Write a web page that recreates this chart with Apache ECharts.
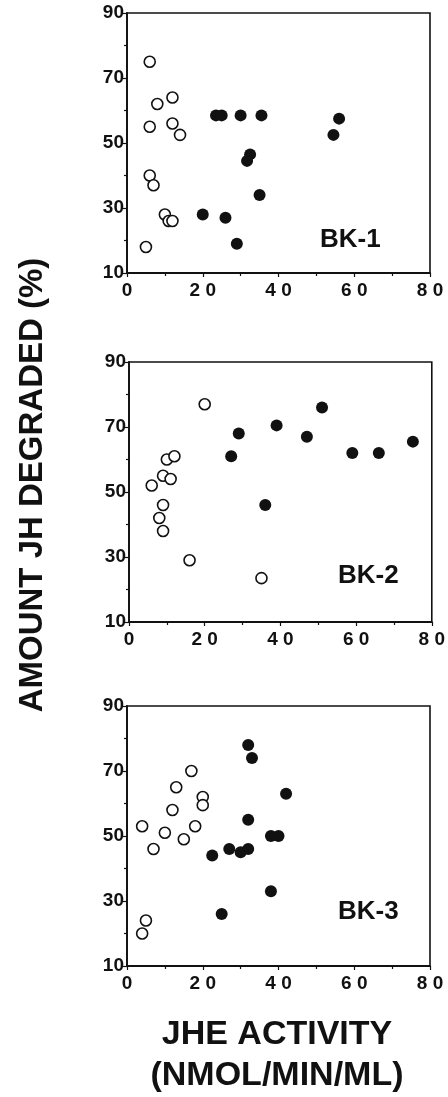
<!DOCTYPE html>
<html>
<head>
<meta charset="utf-8">
<script src="https://cdn.jsdelivr.net/npm/echarts@6/dist/echarts.min.js"></script>
<style>
    html, body { margin: 0; padding: 0; background: #fff; }
    #jh-degraded-chart { width: 448px; height: 1097px; }
</style>
</head>
<body>
<div id="jh-degraded-chart"></div>
<script>
    'use strict'

    // x = JHE activity, y = amount JH degraded (%)
    var bk1Open = [[6, 75], [8, 62], [12, 64], [6, 55], [12, 56], [14, 52.5], [6, 40], [7, 37], [10, 28], [11, 26], [12, 26], [5, 18]];
    var bk1Filled = [[23.5, 58.5], [25, 58.5], [30, 58.5], [35.5, 58.5], [56, 57.5], [54.5, 52.5], [32.5, 46.5], [31.7, 44.5], [35, 34], [20, 28], [26, 27], [29, 19]];

    var bk2Open = [[20, 77], [6, 52], [9, 55], [10, 60], [12, 61], [11, 54], [9, 46], [8, 42], [9, 38], [16, 29], [35, 23.5]];
    var bk2Filled = [[27, 61], [29, 68], [39, 70.5], [47, 67], [51, 76], [36, 46], [59, 62], [66, 62], [75, 65.5]];

    var bk3Open = [[4, 53], [7, 46], [10, 51], [12, 58], [13, 65], [15, 49], [17, 70], [18, 53], [20, 62], [20, 59.5], [5, 24], [4, 20]];
    var bk3Filled = [[32, 78], [33, 74], [42, 63], [32, 55], [38, 50], [40, 50], [22.5, 44], [27, 46], [30, 45], [32, 46], [38, 33], [25, 26]];

    var panelNames = ['BK-1', 'BK-2', 'BK-3'];
    var xTicks = [0, 20, 40, 60, 80];
    var yTicks = [10, 30, 50, 70, 90];

    var font = 'Liberation Sans, Arial, sans-serif';
    var panelTops = [13, 362, 706];
    var panelLefts = [127, 129, 127];
    var labelPos = [[320, 240], [338, 576], [338, 912]];

    var dom = document.getElementById('jh-degraded-chart');
    var chart = echarts.init(dom, null, { renderer: 'canvas' });

    var grids = [], xAxes = [], yAxes = [], series = [], graphics = [];
    var openSets = [bk1Open, bk2Open, bk3Open];
    var filledSets = [bk1Filled, bk2Filled, bk3Filled];

    for (var i = 0; i < 3; i++) {
        grids.push({
            left: panelLefts[i], top: panelTops[i], width: 303, height: 260,
            show: true, borderColor: '#111', borderWidth: 1.6, backgroundColor: 'transparent'
        });
        xAxes.push({
            gridIndex: i, type: 'value', min: xTicks[0], max: xTicks[xTicks.length - 1], interval: 20,
            axisLine: { lineStyle: { color: '#111', width: 1.8 } },
            axisTick: { show: true, inside: false, length: 4, lineStyle: { color: '#111', width: 1.2 } },
            minorTick: { show: true, splitNumber: 2, length: 3, lineStyle: { color: '#111', width: 1.2 } },
            splitLine: { show: false },
            axisLabel: {
                color: '#111', fontFamily: font, fontWeight: 'bold', fontSize: 19, margin: 8,
                formatter: function (v) { return String(v).split('').join(' '); }
            }
        });
        yAxes.push({
            gridIndex: i, type: 'value', min: yTicks[0], max: yTicks[yTicks.length - 1], interval: 20,
            axisLine: { lineStyle: { color: '#111', width: 1.8 } },
            axisTick: { show: true, inside: false, length: 4, lineStyle: { color: '#111', width: 1.2 } },
            minorTick: { show: true, splitNumber: 2, length: 3, lineStyle: { color: '#111', width: 1.2 } },
            splitLine: { show: false },
            axisLabel: { color: '#111', fontFamily: font, fontWeight: 'bold', fontSize: 19, margin: 3 }
        });
        series.push({
            type: 'scatter', xAxisIndex: i, yAxisIndex: i, data: openSets[i],
            symbol: 'circle', symbolSize: 11,
            itemStyle: { color: '#fff', borderColor: '#111', borderWidth: 1.6, opacity: 1 }
        });
        series.push({
            type: 'scatter', xAxisIndex: i, yAxisIndex: i, data: filledSets[i],
            symbol: 'circle', symbolSize: 12,
            itemStyle: { color: '#111', opacity: 1 }
        });
        graphics.push({
            type: 'text', left: labelPos[i][0], top: labelPos[i][1] - 13,
            style: { text: panelNames[i], font: 'bold 26px ' + font, fill: '#111' }
        });
    }

    // axis titles
    graphics.push({
        type: 'text', x: 33, y: 485, rotation: Math.PI / 2,
        style: {
            text: 'AMOUNT JH DEGRADED (%)', font: 'bold 33px ' + font, fill: '#111',
            textAlign: 'center', textVerticalAlign: 'middle'
        }
    });
    graphics.push({
        type: 'text', x: 277, y: 1035,
        style: {
            text: 'JHE ACTIVITY', font: 'bold 34px ' + font, fill: '#111',
            textAlign: 'center', textVerticalAlign: 'middle'
        }
    });
    graphics.push({
        type: 'text', x: 277, y: 1076,
        style: {
            text: '(NMOL/MIN/ML)', font: 'bold 34px ' + font, fill: '#111',
            textAlign: 'center', textVerticalAlign: 'middle'
        }
    });

    var option = {
        animation: false,
        backgroundColor: '#fff',
        grid: grids,
        xAxis: xAxes,
        yAxis: yAxes,
        series: series,
        graphic: graphics
    };

    if (option && typeof option === 'object') {
        chart.setOption(option);
    }
</script>
</body>
</html>
